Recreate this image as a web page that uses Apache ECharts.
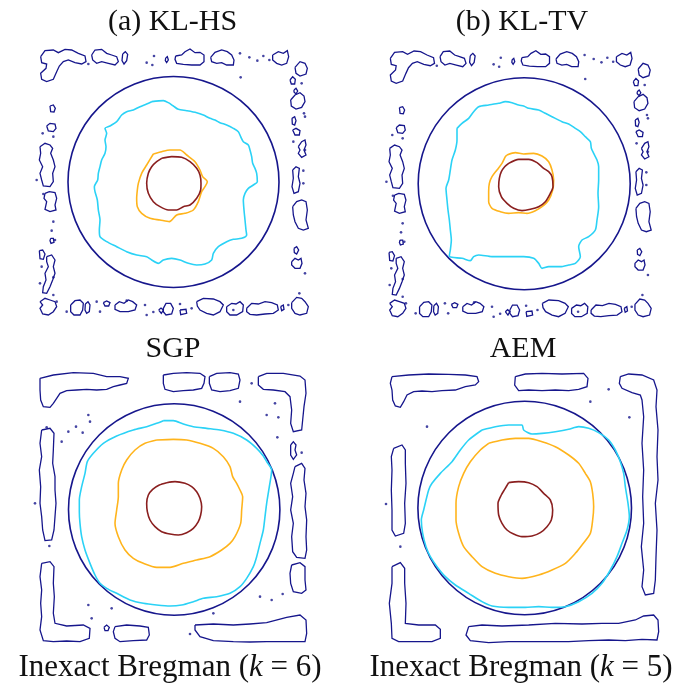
<!DOCTYPE html>
<html><head><meta charset="utf-8">
<script src="https://cdn.jsdelivr.net/npm/echarts@6/dist/echarts.min.js"></script>
<style>html,body{margin:0;padding:0;background:#fff}#c{width:684px;height:689px}</style>
</head><body><div id="c"></div><script>
// ---- labels ----
const panelTitles = ['(a) KL-HS', '(b) KL-TV', 'SGP', 'AEM'];
const bottomLabels = ['Inexact Bregman ({i|k} = 6)', 'Inexact Bregman ({i|k} = 5)'];

// ---- contour data (image-grid units, flat x,y lists) ----
// panel (a) KL-HS
const A_cyan = [455,305, 490,302, 505,308, 520,318, 535,328, 560,332, 590,338, 610,345, 630,355, 645,360, 660,368, 680,375, 700,385, 715,395, 722,410, 730,425, 745,435, 750,450, 755,470, 758,490, 765,505, 770,520, 772,545, 760,555, 745,565, 735,580, 730,600, 732,630, 735,660, 738,690, 740,705, 725,715, 700,718, 680,725, 655,740, 640,760, 635,780, 615,792, 590,795, 565,790, 540,780, 515,775, 490,780, 475,790, 455,780, 440,770, 410,765, 380,755, 350,740, 320,725, 300,710, 298,690, 300,660, 295,630, 292,600, 285,575, 283,560, 293,540, 295,520, 300,500, 305,480, 315,460, 318,440, 315,420, 320,400, 315,385, 330,378, 350,365, 365,345, 380,335, 400,330, 420,320, 440,312];
const A_orange = [460,462, 485,455, 510,450, 540,450, 560,465, 585,485, 600,510, 608,530, 622,545, 615,560, 605,575, 595,605, 580,630, 555,640, 530,645, 508,665, 480,660, 450,655, 425,640, 412,620, 410,595, 412,570, 415,550, 425,520, 440,495];
const A_red = [485,475, 515,470, 545,472, 570,485, 590,505, 600,525, 603,550, 602,570, 590,595, 570,615, 550,620, 530,630, 505,630, 480,620, 460,605, 445,580, 440,550, 445,520, 455,500, 470,485];
// noise contours of panels (a) and (b)
const AB_blobs = [
  [122,170, 135,152, 160,150, 175,158, 195,148, 215,150, 235,160, 255,168, 258,185, 245,192, 225,188, 205,180, 190,185, 178,198, 170,215, 160,238, 140,245, 125,238, 122,220, 138,205, 140,192, 125,188],
  [275,165, 285,150, 305,148, 320,160, 335,165, 350,170, 355,185, 345,195, 325,190, 305,185, 290,190, 278,180],
  [368,162, 376,155, 383,163, 380,182, 372,192, 366,182],
  [497,174, 502,170, 505,180, 500,188, 496,182],
  [527,168, 545,165, 555,155, 570,147, 585,158, 600,157, 612,165, 612,185, 600,195, 575,195, 550,193, 530,190, 525,178],
  [632,172, 645,157, 665,150, 682,155, 695,165, 702,180, 700,195, 680,195, 665,188, 650,190, 635,185],
  [818,165, 835,155, 850,160, 862,152, 866,170, 860,190, 845,195, 830,190, 818,180],
  [885,202, 900,185, 915,190, 922,205, 918,222, 900,228, 888,220],
  [150,318, 160,315, 166,325, 162,336, 152,335],
  [140,378, 150,370, 165,372, 168,385, 160,395, 145,393],
  [120,440, 135,430, 150,435, 158,445, 152,460, 160,480, 165,500, 158,520, 160,545, 150,560, 130,558, 125,540, 120,520, 128,500, 118,480, 122,460],
  [135,580, 148,575, 165,578, 170,595, 165,615, 168,630, 150,635, 135,628, 140,605, 132,595],
  [152,715, 160,715, 162,727, 153,730, 150,722],
  [118,752, 128,750, 135,762, 130,778, 120,776],
  [140,770, 155,765, 165,780, 160,800, 165,820, 158,840, 150,860, 140,880, 128,878, 130,860, 138,840, 135,820, 145,800, 140,785],
  [120,905, 135,895, 150,900, 165,905, 170,920, 160,935, 145,945, 128,942, 120,925, 128,915],
  [212,915, 225,902, 240,900, 250,910, 248,930, 240,945, 222,945, 212,935],
  [256,912, 264,905, 270,915, 268,935, 260,940, 255,930],
  [310,908, 320,903, 330,908, 326,918, 315,918],
  [345,915, 358,905, 372,910, 385,900, 398,905, 410,915, 405,930, 385,935, 360,935, 345,928],
  [476,930, 483,924, 490,930, 484,940],
  [490,925, 498,910, 512,910, 520,925, 515,942, 498,945, 490,935],
  [540,930, 558,928, 560,940, 542,944],
  [590,905, 610,895, 640,897, 660,905, 670,915, 660,935, 640,945, 620,940, 600,930, 592,918],
  [680,920, 695,910, 708,912, 720,905, 730,915, 728,935, 710,945, 690,945, 680,935],
  [740,925, 755,910, 775,912, 795,905, 815,908, 832,915, 835,930, 820,940, 795,942, 770,945, 750,943, 740,935],
  [842,920, 850,915, 852,928, 845,932],
  [875,908, 890,892, 905,895, 915,905, 925,920, 920,940, 900,945, 885,940, 875,925],
  [870,240, 878,230, 886,238, 884,252, 874,252],
  [882,270, 888,265, 893,273, 888,282, 882,276],
  [872,300, 885,285, 900,278, 912,288, 915,305, 905,322, 888,327, 874,318],
  [876,355, 884,350, 888,362, 884,375, 877,372],
  [878,390, 888,385, 900,392, 898,405, 885,405],
  [895,440, 905,425, 915,420, 918,435, 912,450, 918,465, 905,472, 895,460, 900,450],
  [878,510, 888,500, 898,505, 895,530, 900,550, 895,575, 882,580, 876,560, 880,535],
  [878,620, 890,605, 905,600, 918,605, 922,630, 918,660, 925,685, 910,690, 895,685, 885,665, 880,645],
  [882,745, 890,740, 896,750, 890,762, 883,758],
  [875,785, 885,775, 895,780, 903,775, 906,790, 900,805, 885,805, 875,795]
];
const AB_dots = [440,188, 457,195, 462,168, 720,160, 748,172, 772,182, 790,168, 808,180, 722,232, 265,192, 128,400, 160,410, 110,540, 130,582, 160,665, 155,692, 165,720, 125,800, 160,832, 120,850, 160,885, 380,902, 435,915, 440,945, 460,936, 540,912, 575,925, 700,930, 865,915, 898,880, 915,820, 910,512, 910,550, 915,450, 880,425, 912,340, 905,250, 915,350, 170,905, 200,935, 290,905, 300,935];
// panel (b) KL-TV
const B_cyan = [345,385, 360,370, 380,355, 395,335, 410,320, 440,315, 470,310, 490,305, 510,308, 530,315, 545,318, 560,325, 590,330, 610,340, 630,350, 660,365, 680,372, 700,385, 715,395, 730,410, 745,425, 748,445, 755,460, 765,480, 770,500, 770,540, 768,580, 770,620, 765,660, 760,690, 740,710, 720,720, 710,740, 715,770, 700,790, 680,795, 655,800, 620,800, 600,805, 590,790, 575,775, 545,770, 500,770, 450,770, 410,765, 395,770, 385,782, 360,775, 330,772, 322,768, 325,750, 328,720, 325,690, 322,660, 318,630, 315,600, 312,565, 320,540, 325,510, 330,480, 340,450, 345,420];
const B_orange = [495,465, 520,458, 545,462, 575,460, 600,468, 620,485, 630,510, 635,540, 632,570, 620,600, 600,620, 580,632, 555,640, 530,638, 500,640, 475,635, 450,625, 440,605, 440,575, 442,550, 450,530, 465,510, 480,490, 490,470];
const B_red = [500,490, 530,478, 560,478, 585,488, 605,505, 620,515, 630,530, 633,560, 625,580, 610,605, 590,620, 565,628, 540,632, 515,625, 495,610, 478,590, 470,560, 472,535, 478,515, 488,500];
// panel SGP
const C_cyan = [490,272, 520,272, 550,282, 580,290, 620,295, 660,300, 700,310, 740,330, 770,355, 790,378, 800,395, 815,420, 808,470, 800,520, 795,560, 790,600, 780,640, 770,680, 760,710, 740,745, 720,770, 690,790, 650,800, 610,805, 580,815, 545,825, 510,828, 470,825, 430,820, 390,810, 350,790, 320,775, 300,760, 285,735, 270,700, 255,660, 245,620, 240,580, 238,545, 238,510, 245,470, 255,430, 262,395, 280,370, 310,340, 350,318, 400,300, 440,290, 470,280];
const C_orange = [470,330, 520,328, 560,330, 600,340, 640,355, 670,380, 690,410, 698,440, 710,460, 720,480, 728,500, 725,540, 722,580, 705,620, 690,640, 665,660, 630,680, 590,690, 550,700, 510,712, 470,712, 430,700, 400,685, 375,660, 355,620, 345,580, 350,540, 355,500, 355,460, 365,420, 380,390, 405,360, 435,340];
const C_red = [500,458, 525,455, 555,460, 575,470, 590,485, 600,505, 605,530, 602,555, 595,575, 580,595, 560,608, 535,615, 510,612, 485,605, 465,590, 450,570, 442,545, 440,520, 445,495, 458,478, 478,465];
const C_blobs = [
  [120,145, 160,135, 220,128, 280,130, 320,140, 360,140, 385,145, 380,160, 360,165, 340,170, 320,178, 290,180, 260,178, 230,180, 200,182, 180,190, 170,205, 160,220, 150,232, 130,230, 122,210, 120,180],
  [490,135, 520,130, 560,128, 600,130, 615,140, 612,160, 605,175, 580,180, 550,182, 520,185, 495,178, 490,160],
  [628,140, 650,130, 690,128, 715,132, 720,150, 715,175, 690,182, 660,185, 635,180, 628,160],
  [775,140, 800,130, 850,130, 900,138, 915,150, 918,190, 912,230, 908,270, 905,300, 880,305, 872,280, 875,240, 870,200, 855,185, 820,180, 790,178, 775,165],
  [125,300, 150,295, 162,310, 160,360, 158,400, 165,440, 165,480, 168,520, 165,560, 162,600, 155,630, 135,632, 128,600, 125,560, 120,520, 122,470, 118,420, 125,380, 120,340],
  [872,345, 880,335, 888,345, 885,360, 890,375, 880,388, 872,375],
  [885,410, 905,400, 915,415, 912,450, 918,490, 915,530, 920,570, 918,620, 920,660, 915,685, 890,682, 878,665, 875,620, 880,580, 872,540, 878,500, 872,460, 880,430],
  [125,700, 150,695, 162,710, 160,760, 163,800, 160,850, 165,880, 200,888, 250,885, 270,895, 268,925, 240,935, 200,933, 160,935, 130,932, 120,900, 125,860, 122,820, 125,780, 120,740],
  [875,705, 900,698, 915,710, 915,750, 918,780, 905,790, 880,785, 872,760, 870,730],
  [345,890, 380,885, 420,888, 445,892, 448,915, 440,930, 400,932, 360,935, 345,925, 340,905],
  [585,885, 640,882, 700,885, 750,882, 800,878, 860,862, 900,855, 918,870, 920,910, 915,935, 860,935, 800,935, 750,936, 700,935, 640,932, 600,920, 585,900],
  [312,892, 320,885, 328,892, 324,902, 315,902]
];
const C_dots = [570,912, 720,215, 755,160, 825,220, 800,255, 835,262, 832,322, 905,368, 105,520, 148,648, 140,292, 185,335, 205,305, 228,290, 248,308, 265,255, 270,275, 265,825, 275,865, 335,835, 780,800, 815,810, 848,792, 640,850];
// panel AEM
const D_cyan = [420,300, 460,290, 500,285, 540,285, 545,300, 570,312, 600,310, 640,305, 680,298, 710,290, 740,295, 770,308, 800,330, 820,360, 835,395, 845,430, 850,470, 858,520, 862,560, 855,600, 840,640, 825,680, 805,720, 780,760, 750,790, 710,815, 670,830, 630,832, 590,830, 550,832, 500,832, 450,828, 420,815, 380,790, 340,765, 310,740, 285,710, 265,680, 252,650, 242,610, 238,570, 245,540, 260,480, 270,460, 295,430, 330,395, 355,360, 380,330];
const D_orange = [440,340, 480,330, 520,325, 560,325, 600,335, 640,350, 680,375, 710,400, 730,430, 745,455, 752,490, 755,530, 752,570, 745,610, 720,645, 700,670, 670,700, 630,720, 590,735, 540,745, 500,740, 460,730, 420,710, 390,680, 365,650, 350,610, 342,570, 342,520, 350,470, 365,430, 385,395, 415,360];
const D_red = [500,458, 530,455, 560,458, 585,470, 605,490, 625,510, 632,540, 628,570, 615,590, 595,608, 570,618, 540,620, 515,612, 495,600, 480,580, 470,555, 468,520, 478,495, 488,478];
const D_blobs = [
  [150,140, 200,135, 260,132, 320,133, 370,135, 405,140, 410,155, 400,165, 370,170, 340,180, 300,182, 270,185, 240,183, 215,185, 195,195, 185,215, 175,232, 160,228, 152,210, 150,180, 145,160],
  [520,140, 550,132, 600,130, 660,132, 725,130, 738,145, 735,170, 710,178, 680,182, 640,180, 600,182, 560,180, 530,182, 518,165],
  [835,140, 860,132, 900,135, 935,150, 945,180, 942,230, 948,300, 945,380, 948,450, 940,520, 945,600, 942,680, 940,750, 935,790, 910,795, 900,770, 905,720, 898,650, 905,580, 902,500, 905,420, 900,340, 905,260, 900,210, 895,195, 870,188, 840,175, 832,160],
  [155,355, 180,345, 190,360, 190,400, 192,460, 188,520, 190,580, 185,610, 160,618, 150,600, 150,540, 148,480, 150,420, 148,380],
  [150,710, 175,698, 188,715, 188,760, 192,820, 190,880, 230,885, 280,885, 295,898, 295,925, 270,935, 220,935, 170,935, 150,925, 148,880, 142,820, 150,760],
  [380,890, 420,885, 480,888, 560,885, 640,880, 720,882, 780,880, 830,880, 880,870, 905,858, 935,855, 948,870, 950,905, 945,930, 900,928, 850,932, 800,930, 740,932, 680,935, 620,935, 560,935, 500,935, 440,938, 385,932, 372,915]
];
const D_dots = [800,178, 745,215, 862,262, 255,290, 132,522, 175,650];

// ---- styles ----
const NAVY = '#16168c', CYAN = '#2bd2f6', ORANGE = '#ffb41c', DARKRED = '#8a1f1f';
const FONT = 'Liberation Serif';

function pairs(flat) { const o = []; for (let i = 0; i < flat.length; i += 2) o.push([flat[i], flat[i + 1]]); return o; }
function closed(flat) { const p = pairs(flat); p.push(p[0]); return p; }

// grids: 0=(a), 1=(b) rings, 2=(b) noise, 3=SGP, 4=AEM
const grids = [
  { left: 0, top: 0, width: 342, height: 330, xr: 1026, yr: 990 },
  { left: 342, top: 0, width: 342, height: 330, xr: 1026, yr: 990 },
  { left: 350.7, top: 1.7, width: 342, height: 330, xr: 1026, yr: 990 },
  { left: 0, top: 330, width: 342, height: 359, xr: 1026, yr: 1077 },
  { left: 342, top: 330, width: 342, height: 359, xr: 1026, yr: 1077 }
];
const polars = [
  { center: [173.5, 182], radius: 105.5 },
  { center: [524.2, 183.7], radius: 106 },
  { center: [174.2, 509.5], radius: 105.7 },
  { center: [524.7, 508], radius: 106.8 }
];

const series = [];
function ring(g, flat, color) {
  series.push({ type: 'line', xAxisIndex: g, yAxisIndex: g, data: closed(flat), showSymbol: false, smooth: 0.25,
    lineStyle: { color: color, width: 1.6 }, silent: true, animation: false, z: 3 });
}
function blobs(g, list, dots) {
  series.push({ type: 'lines', coordinateSystem: 'cartesian2d', xAxisIndex: g, yAxisIndex: g, polyline: true,
    data: list.map(b => ({ coords: closed(b) })), lineStyle: { color: NAVY, width: 1.3, opacity: 1 }, silent: true, animation: false });
  series.push({ type: 'scatter', xAxisIndex: g, yAxisIndex: g, data: pairs(dots), symbolSize: 2.6,
    itemStyle: { color: NAVY }, silent: true, animation: false });
}
blobs(0, AB_blobs, AB_dots); ring(0, A_cyan, CYAN); ring(0, A_orange, ORANGE); ring(0, A_red, DARKRED);
blobs(2, AB_blobs, AB_dots); ring(1, B_cyan, CYAN); ring(1, B_orange, ORANGE); ring(1, B_red, DARKRED);
blobs(3, C_blobs, C_dots); ring(3, C_cyan, CYAN); ring(3, C_orange, ORANGE); ring(3, C_red, DARKRED);
blobs(4, D_blobs, D_dots); ring(4, D_cyan, CYAN); ring(4, D_orange, ORANGE); ring(4, D_red, DARKRED);

const hidden = { show: false };
const titlePos = [[172.5, 22], [522, 22], [173, 349], [523, 349]];
const bottomPos = [[170, 668], [521, 668]];
const graphic = [];
panelTitles.forEach((t, i) => graphic.push({ type: 'text', x: titlePos[i][0], y: titlePos[i][1], silent: true,
  style: { text: t, fontFamily: FONT, fontSize: 30, fill: '#111', textAlign: 'center', textVerticalAlign: 'middle' } }));
bottomLabels.forEach((t, i) => graphic.push({ type: 'text', x: bottomPos[i][0], y: bottomPos[i][1], silent: true,
  style: { text: t, fontFamily: FONT, fontSize: 31, fill: '#111', textAlign: 'center', textVerticalAlign: 'middle',
    rich: { i: { fontFamily: FONT, fontSize: 31, fontStyle: 'italic', fill: '#111' } } } }));

const chart = echarts.init(document.getElementById('c'), null, { renderer: 'canvas' });
chart.setOption({
  backgroundColor: '#fff',
  animation: false,
  grid: grids.map(g => ({ left: g.left, top: g.top, width: g.width, height: g.height, containLabel: false })),
  xAxis: grids.map((g, i) => ({ gridIndex: i, type: 'value', min: 0, max: g.xr, show: false })),
  yAxis: grids.map((g, i) => ({ gridIndex: i, type: 'value', min: 0, max: g.yr, inverse: true, show: false })),
  polar: polars,
  angleAxis: polars.map((p, i) => ({ polarIndex: i, type: 'value', min: 0, max: 360, axisLine: { show: true, lineStyle: { color: NAVY, width: 1.6 } },
    axisTick: hidden, axisLabel: hidden, splitLine: hidden })),
  radiusAxis: polars.map((p, i) => ({ polarIndex: i, type: 'value', min: 0, max: 1, axisLine: hidden, axisTick: hidden, axisLabel: hidden, splitLine: hidden })),
  graphic: graphic,
  series: series
});
</script></body></html>
